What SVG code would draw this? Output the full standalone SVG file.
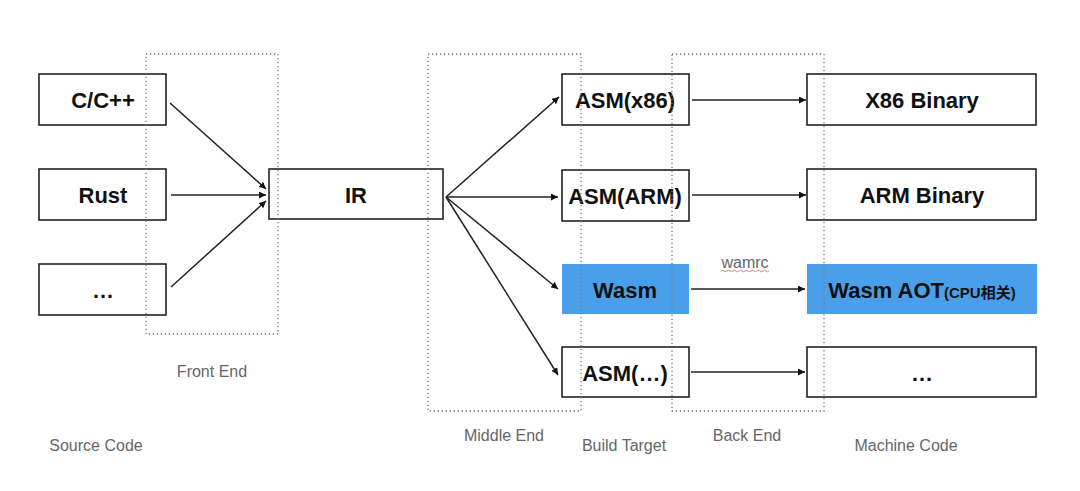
<svg xmlns="http://www.w3.org/2000/svg" width="1080" height="491" viewBox="0 0 1080 491">
<defs>
<marker id="ah" viewBox="0 0 10 10" refX="10" refY="5" markerWidth="7" markerHeight="7" markerUnits="userSpaceOnUse" orient="auto">
<path d="M0,0 L10,5 L0,10 z" fill="#111"/>
</marker>
</defs>
<style>
.box{fill:#fff;stroke:#222;stroke-width:1.6}
.blue{fill:#4a9fea;stroke:none}
.t{font-family:"Liberation Sans",Arial,sans-serif;font-weight:bold;font-size:22px;fill:#111;text-anchor:middle}
.lab{font-family:"Liberation Sans",Arial,sans-serif;font-size:16px;fill:#666;text-anchor:middle}
.dot{fill:none;stroke:#777;stroke-width:1.3;stroke-dasharray:1.3 2.7}
.c{fill:none;stroke:#222;stroke-width:1.5;marker-end:url(#ah)}
</style>
<rect width="1080" height="491" fill="#fff"/>

<g id="n-c"><rect class="box" x="39" y="74" width="127" height="51"/><text class="t" x="103" y="108">C/C++</text></g>
<g id="n-rust"><rect class="box" x="39" y="169" width="127" height="51"/><text class="t" x="103" y="203">Rust</text></g>
<g id="n-src-more"><rect class="box" x="39" y="264" width="127" height="51"/><text class="t" x="103" y="298">…</text></g>
<g id="n-ir"><rect class="box" x="269" y="169" width="174" height="50"/><text class="t" x="356" y="203">IR</text></g>
<g id="n-asm-x86"><rect class="box" x="562" y="74" width="127" height="51"/><text class="t" x="625" y="108">ASM(x86)</text></g>
<g id="n-asm-arm"><rect class="box" x="562" y="170" width="127" height="51"/><text class="t" x="625" y="204">ASM(ARM)</text></g>
<g id="n-wasm"><rect class="blue" x="562" y="264" width="127" height="50"/><text class="t" x="625" y="298">Wasm</text></g>
<g id="n-asm-more"><rect class="box" x="562" y="347" width="127" height="50"/><text class="t" x="625" y="381">ASM(…)</text></g>
<g id="n-x86bin"><rect class="box" x="807" y="74" width="229" height="51"/><text class="t" x="922" y="108">X86 Binary</text></g>
<g id="n-armbin"><rect class="box" x="807" y="169" width="229" height="51"/><text class="t" x="922" y="203">ARM Binary</text></g>
<g id="n-aot"><rect class="blue" x="807" y="264" width="230" height="50"/><text class="t" x="922" y="298">Wasm AOT<tspan font-size="15px" font-family="'Liberation Sans','Noto Sans CJK SC',sans-serif">(CPU相关)</tspan></text></g>
<g id="n-mc-more"><rect class="box" x="807" y="347" width="229" height="50"/><text class="t" x="922" y="381">…</text></g>

<g id="stages">
<rect class="dot" x="146" y="54" width="132" height="280"/>
<rect class="dot" x="428" y="54" width="153" height="357"/>
<rect class="dot" x="672" y="54" width="152" height="357"/>
<text class="lab" x="212" y="377">Front End</text>
<text class="lab" x="96" y="451">Source Code</text>
<text class="lab" x="504" y="441">Middle End</text>
<text class="lab" x="624" y="451">Build Target</text>
<text class="lab" x="747" y="441">Back End</text>
<text class="lab" x="906" y="451">Machine Code</text>
</g>

<g id="connectors">
<line class="c" x1="170" y1="103" x2="266" y2="189"/>
<line class="c" x1="171" y1="195" x2="266" y2="195"/>
<line class="c" x1="171" y1="287" x2="266" y2="201"/>
<line class="c" x1="446" y1="197" x2="559" y2="97"/>
<line class="c" x1="446" y1="197" x2="558" y2="197"/>
<line class="c" x1="446" y1="197" x2="558" y2="289"/>
<line class="c" x1="446" y1="197" x2="558" y2="375"/>
<line class="c" x1="692" y1="100" x2="806" y2="100"/>
<line class="c" x1="692" y1="195" x2="806" y2="195"/>
<line class="c" x1="691" y1="289" x2="805" y2="289"/>
<line class="c" x1="691" y1="372" x2="805" y2="372"/>
<text class="lab" x="745" y="268" font-size="15px" fill="#888">wamrc</text>
<path d="M721,271 q1.5,-1.5 3,0 t3,0 t3,0 t3,0 t3,0 t3,0 t3,0 t3,0 t3,0 t3,0 t3,0 t3,0 t3,0 t3,0 t3,0 t3,0" fill="none" stroke="#e06060" stroke-width="0.8"/>
</g>
</svg>
